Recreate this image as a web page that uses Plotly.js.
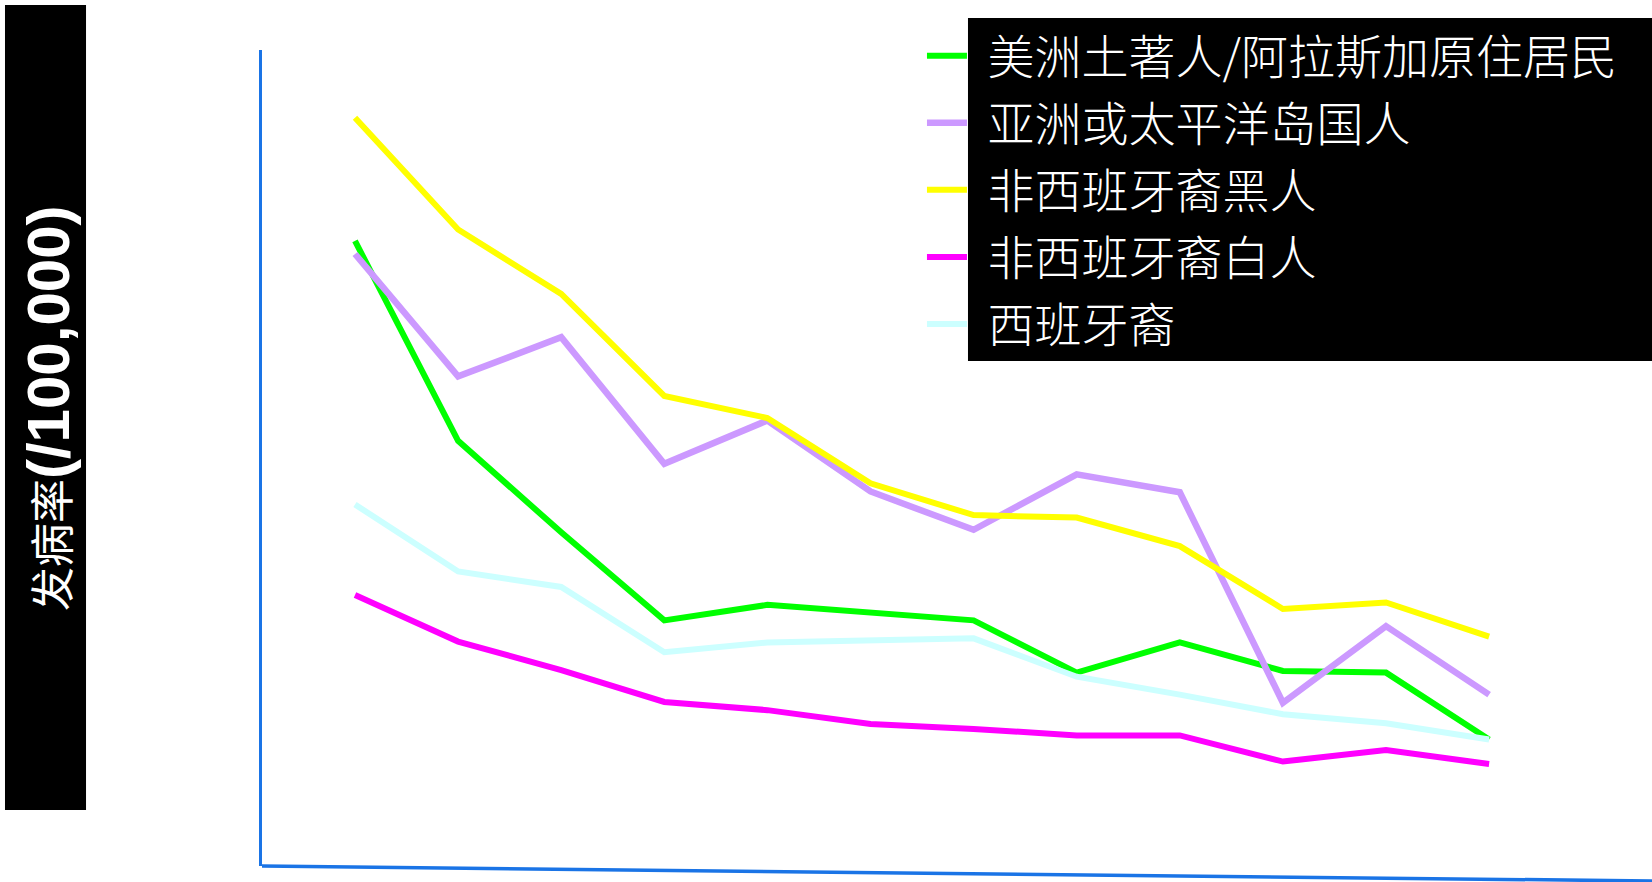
<!DOCTYPE html>
<html>
<head>
<meta charset="utf-8">
<script src="https://cdn.plot.ly/plotly-3.0.1.min.js"></script>
<style>html,body{margin:0;padding:0;background:#fff;}#chart{width:1652px;height:882px;}</style>
</head>
<body>
<div id="chart"></div>
<script>
// Period index (the x axis carries no labels in the reference)
const periods = [1, 2, 3, 4, 5, 6, 7, 8, 9, 10, 11, 12];

// Series names (legend order)
const seriesNames = ['美洲土著人/阿拉斯加原住居民', '亚洲或太平洋岛国人', '非西班牙裔黑人', '非西班牙裔白人', '西班牙裔'];

// Incidence rate values (relative scale, no ticks shown)
const nativeAmerican = [76.6, 52.1, 40.9, 30.1, 32.0, 31.1, 30.1, 23.7, 27.4, 23.9, 23.7, 15.5];
const asianPacific   = [75.0, 60.0, 64.8, 49.3, 54.6, 45.9, 41.2, 48.0, 45.8, 20.0, 29.4, 21.0];
const blackNonHisp   = [91.7, 78.0, 70.1, 57.6, 54.9, 46.9, 43.0, 42.7, 39.2, 31.5, 32.3, 28.1];
const whiteNonHisp   = [33.2, 27.5, 24.0, 20.1, 19.1, 17.4, 16.8, 16.0, 16.0, 12.8, 14.2, 12.5];
const hispanic       = [44.3, 36.1, 34.2, 26.2, 27.4, 27.6, 27.9, 23.2, 21.0, 18.6, 17.5, 15.5];

// Y-axis title
const yTitleCjk = '发病率';
const yTitleUnit = '(/100,000)';

const seriesValues = [nativeAmerican, asianPacific, blackNonHisp, whiteNonHisp, hispanic];
const colors = ['#00ff00', '#cc99ff', '#ffff00', '#ff00ff', '#ccffff'];
const widths = [6, 6.5, 6, 6, 6];

const traces = seriesValues.map((vals, i) => ({
  type: 'scatter',
  mode: 'lines',
  x: periods,
  y: vals,
  name: '<span style="font-size:35px">\u00a0\u00a0</span>' + seriesNames[i],
  legendgroup: 'g' + i,
  line: {color: colors[i], width: widths[i]},
  hoverinfo: 'y'
}));

const blue = '#1a74e6';

const layout = {
  width: 1652,
  height: 882,
  margin: {l: 262, r: 0, t: 50, b: 16},
  paper_bgcolor: '#ffffff',
  plot_bgcolor: '#ffffff',
  showlegend: true,
  legend: {
    x: 0.4748, xanchor: 'left',
    y: 1.0385, yanchor: 'top',
    bgcolor: 'rgba(0,0,0,0)',
    borderwidth: 0,
    itemwidth: 40,
    tracegroupgap: 3,
    font: {family: '"Noto Sans CJK SC", sans-serif', size: 47, color: '#ffffff', weight: 300}
  },
  xaxis: {
    range: [0.098, 13.58],
    showline: false, showgrid: false, zeroline: false,
    showticklabels: false, ticks: ''
  },
  yaxis: {
    range: [0, 100],
    showline: true, linecolor: blue, linewidth: 3,
    showgrid: false, zeroline: false,
    showticklabels: false, ticks: '',
    automargin: false
  },
  annotations: [
    {
      xref: 'paper', yref: 'paper',
      x: -0.1532, y: 0.5613, xanchor: 'center', yanchor: 'middle',
      textangle: -90, showarrow: false,
      text: '<span style="font-size:44px">' + yTitleCjk + '</span><b>' + yTitleUnit + '</b>',
      font: {family: '"Liberation Sans", "Noto Sans CJK SC", sans-serif', size: 60, color: '#ffffff'}
    }
  ],
  shapes: [
    // black panel behind the y-axis title
    {type: 'rect', xref: 'paper', yref: 'paper', x0: -0.1849, x1: -0.1266, y0: 0.0686, y1: 1.0551,
     fillcolor: '#000000', line: {width: 0}, layer: 'above'},
    // black panel behind the legend texts
    {type: 'rect', xref: 'paper', yref: 'paper', x0: 0.5079, x1: 1.01, y0: 0.6189, y1: 1.0392,
     fillcolor: '#000000', line: {width: 0}, layer: 'above'},
    // slanted baseline
    {type: 'line', xref: 'paper', yref: 'paper', x0: 0, y0: 0, x1: 1.0, y1: -0.01838,
     line: {color: blue, width: 3.5}, layer: 'above'}
  ]
};

Plotly.newPlot('chart', traces, layout, {displayModeBar: false, staticPlot: true});
</script>
</body>
</html>
